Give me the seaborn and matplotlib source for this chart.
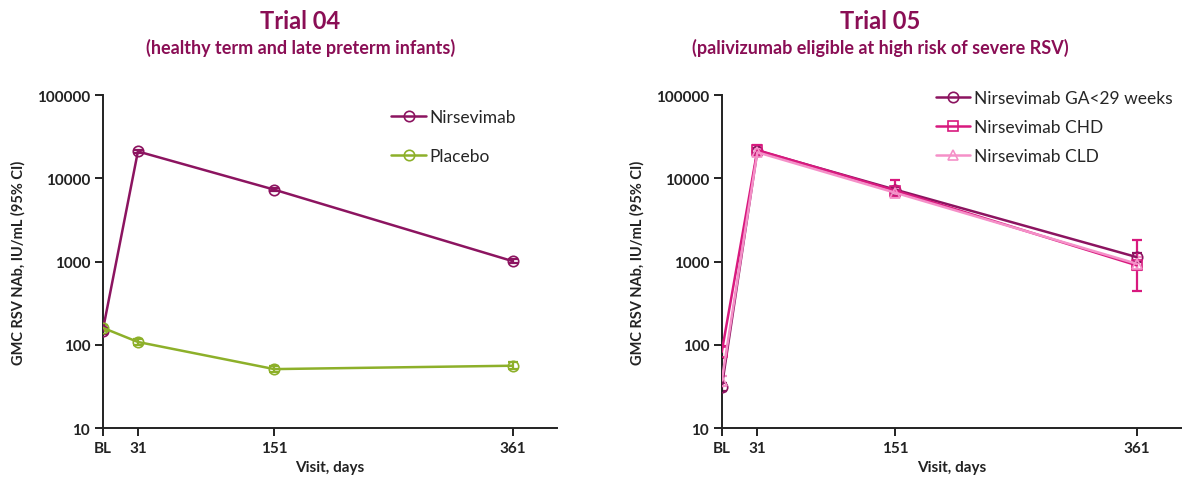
import numpy as np
import pandas as pd
import matplotlib
matplotlib.use("Agg")
import matplotlib.pyplot as plt
from matplotlib.lines import Line2D
from matplotlib.ticker import FixedLocator, NullLocator, FixedFormatter
import seaborn as sns

# Visit days (BL = day 0)
visit_days = [0, 31, 151, 361]
visit_labels = ["BL", "31", "151", "361"]

# Trial 04 geometric mean concentrations and 95% CI
t04_nirsevimab = [147, 21000, 7300, 1010]
t04_nirsevimab_lo = [135, 20300, 7050, 960]
t04_nirsevimab_hi = [160, 21700, 7550, 1060]
t04_placebo = [160, 108, 51, 56]
t04_placebo_lo = [148, 100, 47, 51]
t04_placebo_hi = [172, 116, 55, 62]

# Trial 05 geometric mean concentrations and 95% CI
t05_ga29 = [31, 21500, 7300, 1130]
t05_ga29_lo = [28, 20000, 6800, 1000]
t05_ga29_hi = [35, 23000, 7800, 1280]
t05_chd = [82, 21800, 7100, 900]
t05_chd_lo = [70, 19000, 6000, 445]
t05_chd_hi = [96, 25000, 9400, 1820]
t05_cld = [37, 20500, 6700, 940]
t05_cld_lo = [32, 18500, 6000, 780]
t05_cld_hi = [42, 22500, 7500, 1130]

TITLE_COL = "#8A0E55"
COL_NIRS = "#8C1460"
COL_PLAC = "#8DB02A"
COL_GA = "#8C1460"
COL_CHD = "#D8197E"
COL_CLD = "#F590C8"

sns.set_theme(style="ticks")
plt.rcParams["font.family"] = ["Lato", "DejaVu Sans"]


def long_frame(names, values):
    rows = []
    for name, vals in zip(names, values):
        for d, v in zip(visit_days, vals):
            rows.append({"day": d, "gmc": v, "group": name})
    return pd.DataFrame(rows)


def draw_panel(ax, names, values, lows, highs, colors, markers, sizes):
    df = long_frame(names, values)
    palette = dict(zip(names, colors))
    mk = dict(zip(names, markers))
    sns.lineplot(data=df, x="day", y="gmc", hue="group", style="group",
                 palette=palette, markers=mk, dashes=False, ax=ax,
                 linewidth=1.8, markersize=8, legend=False, zorder=3)
    for line, s in zip(ax.lines, sizes):
        c = line.get_color()
        line.set_markeredgecolor(c)
        line.set_markerfacecolor("none")
        line.set_markeredgewidth(1.2)
        line.set_markersize(s)
    for name, v, lo, hi, c in zip(names, values, lows, highs, colors):
        v = np.array(v, float)
        err = np.vstack([v - np.array(lo, float), np.array(hi, float) - v])
        ax.errorbar(visit_days, v, yerr=err, fmt="none", ecolor=c,
                    elinewidth=1.6, capsize=3.5, capthick=1.6, zorder=2)

    ax.set_yscale("log")
    ax.set_ylim(10, 100000)
    ax.set_xlim(0, 400)
    ax.yaxis.set_major_locator(FixedLocator([10, 100, 1000, 10000, 100000]))
    ax.yaxis.set_major_formatter(FixedFormatter(["10", "100", "1000", "10000", "100000"]))
    ax.yaxis.set_minor_locator(NullLocator())
    ax.set_xticks(visit_days)
    ax.set_xticklabels(visit_labels)
    for sp in ["top", "right"]:
        ax.spines[sp].set_visible(False)
    for sp in ["left", "bottom"]:
        ax.spines[sp].set_linewidth(1.4)
        ax.spines[sp].set_color("#222222")
    ax.tick_params(axis="both", length=6, width=1.4, color="#222222",
                   labelsize=11, pad=3)
    for lab in ax.get_xticklabels() + ax.get_yticklabels():
        lab.set_fontweight("bold")
        lab.set_color("#222222")
    ax.set_xlabel("Visit, days", fontsize=11, fontweight="bold", color="#222222", labelpad=4)
    ax.set_ylabel("GMC RSV NAb, IU/mL (95% CI)", fontsize=10.5, fontweight="bold",
                  color="#222222", labelpad=8)
    ax.grid(False)

    handles = [Line2D([], [], color=c, marker=m, markerfacecolor="none",
                      markeredgecolor=c, markeredgewidth=1.2, markersize=s,
                      linewidth=1.8)
               for c, m, s in zip(colors, markers, sizes)]
    return handles


fig = plt.figure(figsize=(11.82, 4.81), dpi=100)
ax1 = fig.add_axes([0.0869, 0.1081, 0.3843, 0.6923])
ax2 = fig.add_axes([0.6106, 0.1081, 0.3890, 0.6923])

names1 = ["Nirsevimab", "Placebo"]
h1 = draw_panel(ax1, names1, [t04_nirsevimab, t04_placebo],
                [t04_nirsevimab_lo, t04_placebo_lo],
                [t04_nirsevimab_hi, t04_placebo_hi],
                [COL_NIRS, COL_PLAC], ["o", "o"], [7.5, 7.5])
ax1.legend(h1, names1, loc="upper left", bbox_to_anchor=(0.62, 0.98),
           frameon=False, fontsize=12.5, handlelength=2.0, handletextpad=0.2,
           labelspacing=1.35, borderaxespad=0)

names2 = ["Nirsevimab GA<29 weeks", "Nirsevimab CHD", "Nirsevimab CLD"]
h2 = draw_panel(ax2, names2, [t05_ga29, t05_chd, t05_cld],
                [t05_ga29_lo, t05_chd_lo, t05_cld_lo],
                [t05_ga29_hi, t05_chd_hi, t05_cld_hi],
                [COL_GA, COL_CHD, COL_CLD], ["o", "s", "^"], [7.5, 7, 7])
ax2.legend(h2, names2, loc="upper left", bbox_to_anchor=(0.45, 1.035),
           frameon=False, fontsize=12.5, handlelength=2.0, handletextpad=0.2,
           labelspacing=0.75, borderaxespad=0)

for cx, title, sub in [(0.254, "Trial 04", "(healthy term and late preterm infants)"),
                       (0.745, "Trial 05", "(palivizumab eligible at high risk of severe RSV)")]:
    fig.text(cx, 0.955, title, ha="center", va="center", fontsize=17,
             fontweight="bold", color=TITLE_COL)
    fig.text(cx, 0.900, sub, ha="center", va="center", fontsize=13,
             fontweight="bold", color=TITLE_COL)

fig.savefig("out.png", dpi=100, facecolor="white")
